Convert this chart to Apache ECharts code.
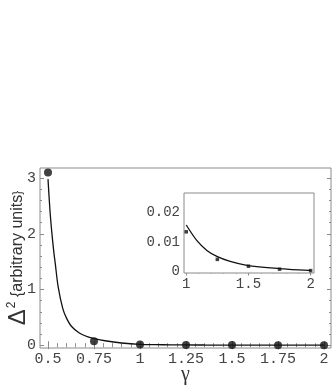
<!DOCTYPE html>
<html><head><meta charset="utf-8">
<script src="https://cdn.jsdelivr.net/npm/echarts@6/dist/echarts.min.js"></script>
<style>html,body{margin:0;padding:0;background:#fff}#c{width:332px;height:391px}</style>
</head><body><div id="c"></div>
<script>
// ---- data ----
const curveGamma = [0.5, 0.51, 0.52, 0.53, 0.54, 0.555, 0.58, 0.6, 0.627, 0.67, 0.717, 0.75, 0.81, 0.9, 1.0, 1.086, 1.166, 1.246, 1.353, 1.487, 1.754, 1.98, 2.0];
const curveValue = [2.98, 2.45, 2.05, 1.72, 1.45, 1.05, 0.66, 0.49, 0.34, 0.22, 0.15, 0.12, 0.08, 0.04, 0.0157, 0.0104, 0.0071, 0.0051, 0.0034, 0.0021, 0.001, 0.0004, 0.0004];
const pointGamma = [0.5, 0.75, 1, 1.25, 1.5, 1.75, 2];
const pointValue = [3.1, 0.07, 0.0134, 0.0041, 0.0018, 0.0008, 0.0003];
const mainXTicks = [0.5, 0.75, 1, 1.25, 1.5, 1.75, 2];
const mainYTicks = [0, 1, 2, 3];
const insetXTicks = [1, 1.5, 2];
const insetYTicks = [0, 0.01, 0.02];

const curve = curveGamma.map((g, i) => [g, curveValue[i]]);
const points = pointGamma.map((g, i) => [g, pointValue[i]]);
const insetCurve = curve.filter(p => p[0] >= 1);
const insetPoints = points.filter(p => p[0] >= 1);

function minors(lo, hi, step) {
  const out = [];
  for (let v = lo; v <= hi + 1e-9; v += step) out.push(+v.toFixed(6));
  return out;
}

const frameColor = '#8a8a8a';
const labelFont = { fontFamily: '"Liberation Mono", "DejaVu Sans Mono", monospace', fontSize: 15, color: '#444' };

function ax(grid, min, max, major, minor, pos, labels) {
  const list = [];
  list.push({
    type: 'value', gridIndex: grid, min, max, position: pos,
    axisLine: { show: false }, splitLine: { show: false },
    axisTick: { show: true, inside: true, length: 4, customValues: major, lineStyle: { color: frameColor } },
    axisLabel: labels ? Object.assign({ show: true, customValues: major, margin: 4, hideOverlap: false, formatter: v => String(+v.toFixed(3)) }, labelFont) : { show: false }
  });
  list.push({
    type: 'value', gridIndex: grid, min, max, position: pos,
    axisLine: { show: false }, splitLine: { show: false },
    axisTick: { show: true, inside: true, length: 2, customValues: minor, lineStyle: { color: frameColor } },
    axisLabel: { show: false }
  });
  return list;
}

const xAxes = [].concat(
  ax(0, 0.4565, 2.038, mainXTicks, minors(0.5, 2, 0.05), 'bottom', true),
  ax(0, 0.4565, 2.038, mainXTicks, minors(0.5, 2, 0.05), 'top', false),
  ax(1, 0.982, 2.027, insetXTicks, minors(1, 2, 0.1), 'bottom', true),
  ax(1, 0.982, 2.027, insetXTicks, minors(1, 2, 0.1), 'top', false)
);
const yAxes = [].concat(
  ax(0, -0.05, 3.18, mainYTicks, minors(0, 3, 0.2), 'left', true),
  ax(0, -0.05, 3.18, mainYTicks, minors(0, 3, 0.2), 'right', false),
  ax(1, -0.0005, 0.0265, insetYTicks, minors(0, 0.026, 0.002), 'left', true),
  ax(1, -0.0005, 0.0265, insetYTicks, minors(0, 0.026, 0.002), 'right', false)
);
// inset labels slightly smaller
xAxes[4].axisLabel.fontSize = 14;
yAxes[4].axisLabel.fontSize = 14;
// axis names
xAxes[0].name = 'γ';
xAxes[0].nameLocation = 'middle';
xAxes[0].nameGap = 17;
xAxes[0].nameMoveOverlap = false;
xAxes[0].nameTextStyle = { fontFamily: 'Liberation Serif', fontSize: 20, color: '#333' };
yAxes[0].name = '{a|Δ}{b|2}{c| {arbitrary units}}';
yAxes[0].nameLocation = 'middle';
yAxes[0].nameGap = 10;
yAxes[0].nameMoveOverlap = false;
yAxes[0].nameTextStyle = {
  color: '#333',
  rich: {
    a: { fontFamily: 'Liberation Sans', fontSize: 24, color: '#333' },
    b: { fontFamily: 'Liberation Sans', fontSize: 12, color: '#333', verticalAlign: 'top', padding: [0, 0, 12, 1] },
    c: { fontFamily: 'Liberation Sans', fontSize: 16, color: '#333' }
  }
};

const option = {
  animation: false,
  backgroundColor: '#fff',
  grid: [
    { left: 40, top: 168, width: 291, height: 180, show: true, borderColor: frameColor, borderWidth: 1, containLabel: false, outerBoundsMode: 'none' },
    { left: 184, top: 193, width: 130, height: 80, show: true, borderColor: frameColor, borderWidth: 1, backgroundColor: '#fff', z: 5, containLabel: false, outerBoundsMode: 'none' }
  ],
  xAxis: xAxes,
  yAxis: yAxes,
  series: [
    { type: 'line', xAxisIndex: 0, yAxisIndex: 0, data: curve, showSymbol: false, smooth: 0.3,
      lineStyle: { color: '#111', width: 1.3 }, clip: true, z: 2 },
    { type: 'scatter', xAxisIndex: 0, yAxisIndex: 0, data: points, symbolSize: 8, itemStyle: { color: '#111' }, z: 3 },
    { type: 'line', xAxisIndex: 4, yAxisIndex: 4, data: insetCurve, showSymbol: false, smooth: 0.3,
      lineStyle: { color: '#111', width: 1.3 }, clip: true, z: 10 },
    { type: 'scatter', xAxisIndex: 4, yAxisIndex: 4, data: insetPoints, symbolSize: 3.5, symbol: 'rect', itemStyle: { color: '#111' }, z: 11 }
  ]
};
const chart = echarts.init(document.getElementById('c'), null, { renderer: 'canvas' });
chart.setOption(option);
</script>
</body></html>
